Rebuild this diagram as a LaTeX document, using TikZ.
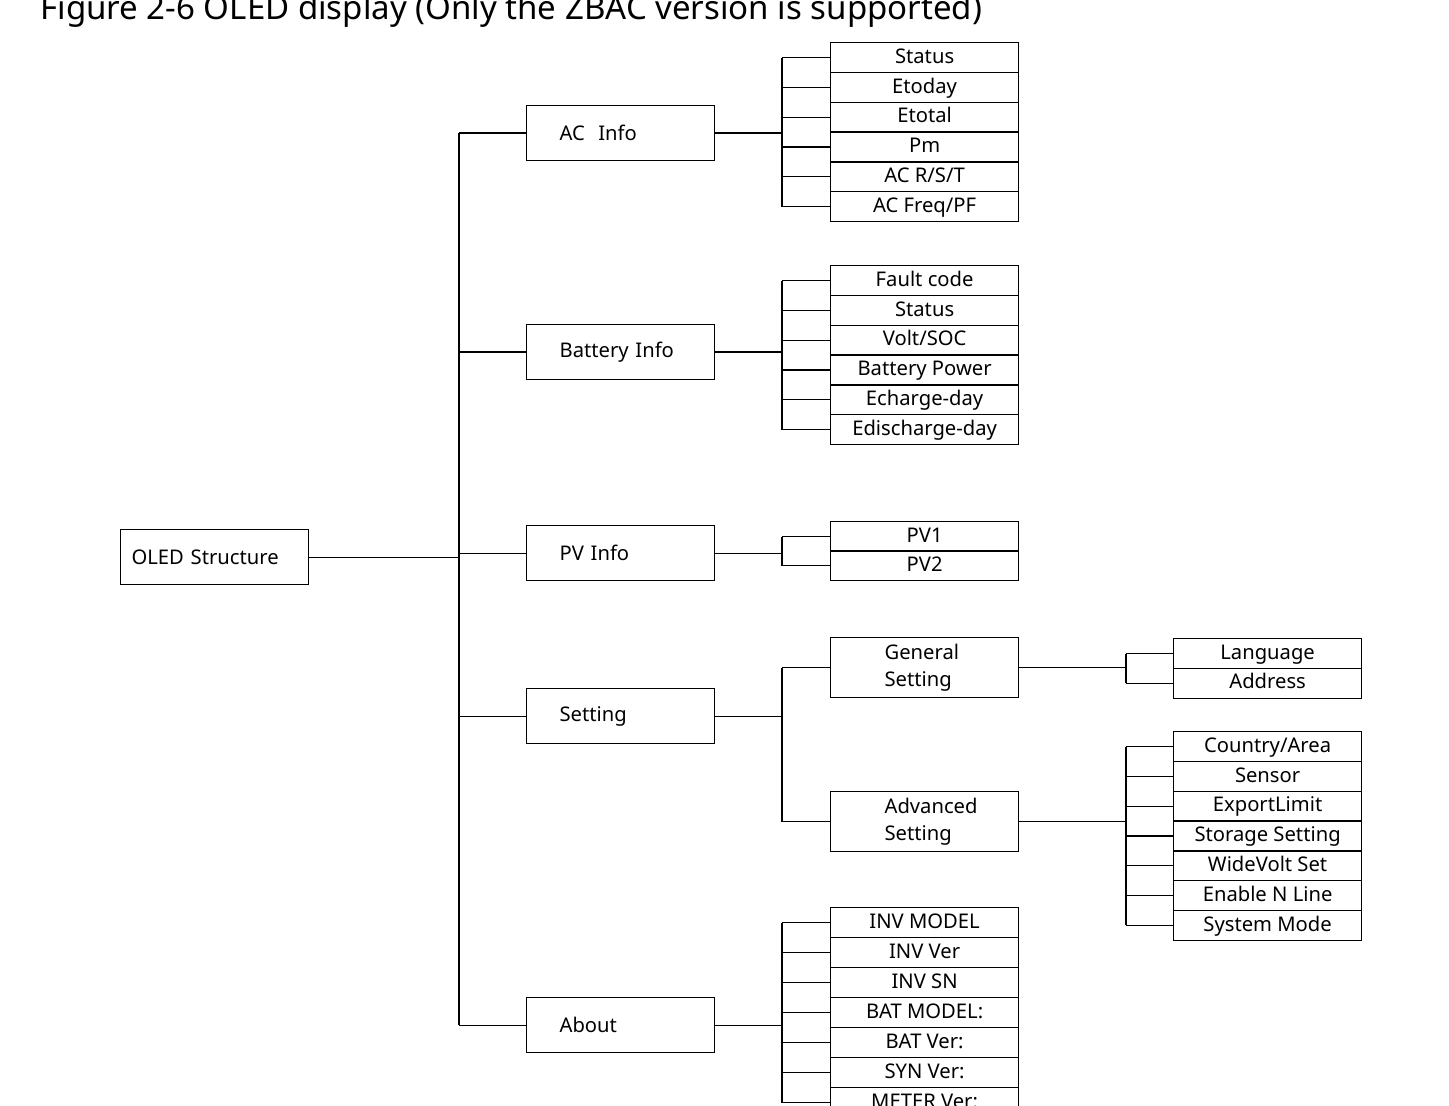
\documentclass[tikz,border=0pt]{standalone}
\usepackage{fontspec}
\setmainfont{Noto Sans}
\usetikzlibrary{positioning}
\tikzset{
  box/.style = {draw, line width=0.7pt, minimum width=3.76cm, minimum height=1.1cm,
                inner xsep=0pt, text width=3.76cm, align=left, anchor=north west,
                font=\fontsize{11.5}{15}\selectfont},
  tall/.style = {box, minimum height=1.2cm},
  item/.style = {draw, line width=0.7pt, minimum width=3.76cm, minimum height=0.6cm,
                 inner sep=0pt, text height=1.6ex, text depth=0.4ex, anchor=north west,
                 font=\fontsize{11.5}{13}\selectfont},
  link/.style = {line width=0.7pt}
}
\newcommand{\pad}[1]{\hspace*{#1}}
\begin{document}
\begin{tikzpicture}[x=0.02cm, y=-0.02cm]
  \useasboundingbox (0,0) rectangle (1449,1105);
  \clip (0,0) rectangle (1449,1105);
  \node[anchor=base west, inner sep=0pt, font=\fontsize{18.8}{22}\selectfont] (title) at (40,20)
    {Figure 2-6 OLED display (Only the ZBAC version is supported)};

  % root and first level
  \node[box] (root) at (120,529) {\pad{0.22cm}OLED Structure};
  \node[box] (acinfo)  at (526,105) {\pad{0.66cm}AC\ \ Info};
  \node[box] (batinfo) at (526,324) {\pad{0.66cm}Battery Info};
  \node[box] (pvinfo)  at (526,525) {\pad{0.66cm}PV Info};
  \node[box] (setting) at (526,688) {\pad{0.66cm}Setting};
  \node[box] (about)   at (526,997) {\pad{0.66cm}About};

  \coordinate (trunk) at (459,556);
  \draw[link] (root.east) -- (trunk |- root.east);
  \draw[link] (trunk |- acinfo.west) -- (trunk |- about.west);
  \foreach \n in {acinfo,batinfo,pvinfo,setting,about}
    \draw[link] (trunk |- \n.west) -- (\n.west);

  % lists
  \foreach \t [count=\i] in {Status,Etoday,Etotal,Pm,AC R/S/T,AC Freq/PF}
    \node[item] (ac\i) at (830,{42+(\i-1)*29.8}) {\t};
  \foreach \t [count=\i] in {Fault code,Status,Volt/SOC,Battery Power,Echarge-day,Edischarge-day}
    \node[item] (bat\i) at (830,{265+(\i-1)*29.8}) {\t};
  \foreach \t [count=\i] in {PV1,PV2}
    \node[item] (pv\i) at (830,{521+(\i-1)*29.2}) {\t};
  \foreach \t [count=\i] in {INV MODEL,INV Ver,INV SN,BAT MODEL:,BAT Ver:,SYN Ver:,METER Ver:}
    \node[item] (ab\i) at (830,{907+(\i-1)*30}) {\t};

  \node[tall] (gen) at (830,637) {\pad{1.08cm}General\\\pad{1.08cm}Setting};
  \node[tall] (adv) at (830,791) {\pad{1.08cm}Advanced\\\pad{1.08cm}Setting};
  \foreach \t [count=\i] in {Language,Address}
    \node[item] (gs\i) at (1173,{638+(\i-1)*29.5}) {\t};
  \foreach \t [count=\i] in {Country/Area,Sensor,ExportLimit,Storage Setting,WideVolt Set,Enable N Line,System Mode}
    \node[item] (as\i) at (1173,{731+(\i-1)*29.8}) {\t};

  % brackets
  \foreach \p/\n/\k/\x in {acinfo/ac/6/782,batinfo/bat/6/782,pvinfo/pv/2/782,about/ab/7/782,gen/gs/2/1126,adv/as/7/1126} {
    \coordinate (\n b) at (\x,0);
    \draw[link] (\p.east) -- (\n b |- \p.east);
    \draw[link] (\n b |- \n 1.west) -- (\n b |- \n\k.west);
    \foreach \i in {1,...,\k}
      \draw[link] (\n b |- \n\i.west) -- (\n\i.west);
  }
  \coordinate (setb) at (782,716);
  \draw[link] (setting.east) -- (setb |- setting.east);
  \draw[link] (setb |- gen.west) -- (setb |- adv.west);
  \draw[link] (setb |- gen.west) -- (gen.west);
  \draw[link] (setb |- adv.west) -- (adv.west);
\end{tikzpicture}
\end{document}
